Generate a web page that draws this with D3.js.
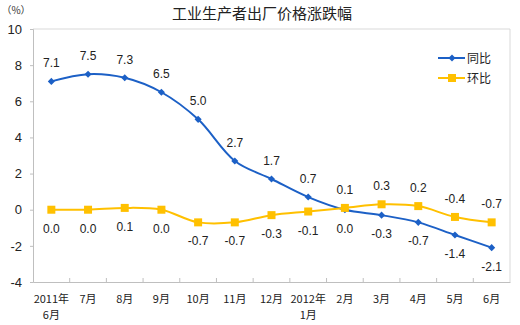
<!DOCTYPE html>
<html><head><meta charset="utf-8">
<script src="https://cdn.jsdelivr.net/npm/d3@7"></script>
<style>body{margin:0;background:#fff;}svg{display:block;font-family:"Liberation Sans","DejaVu Sans",sans-serif;}</style>
</head><body><svg id="c" width="520" height="325"></svg>
<script>
const categories = ["2011年\n6月","7月","8月","9月","10月","11月","12月","2012年\n1月","2月","3月","4月","5月","6月"];
const yoy = [7.1,7.5,7.3,6.5,5.0,2.7,1.7,0.7,0.0,-0.3,-0.7,-1.4,-2.1];
const mom = [0.0,0.0,0.1,0.0,-0.7,-0.7,-0.3,-0.1,0.1,0.3,0.2,-0.4,-0.7];
const yTicks = [-4,-2,0,2,4,6,8,10];
const seriesNames = ["同比","环比"];
const title = "工业生产者出厂价格涨跌幅";
const unit = "（%）";

const svg = d3.select("#c");
const L=33,R=510,T=29,B=282;
const x = d3.scaleBand().domain(d3.range(categories.length)).range([L,R]);
const y = d3.scaleLinear().domain([-4,10]).range([B,T]);
const cx = i => x(i)+x.bandwidth()/2;
const cjk = '"Noto Sans CJK SC",sans-serif';

svg.append("text").attr("x",262).attr("y",19).attr("text-anchor","middle")
  .style("font-family",cjk).style("font-size","15px").attr("fill","#222").text(title);
svg.append("text").attr("x",16).attr("y",14).attr("text-anchor","middle")
  .style("font-family",cjk).style("font-size","10px").attr("fill","#333").text(unit);

svg.append("path").attr("d",`M${L},${T}H${R}V${B}`).attr("fill","none").attr("stroke","#d9d9d9").attr("stroke-width",1);

const ya = svg.append("g").attr("transform",`translate(${L},0)`)
  .call(d3.axisLeft(y).tickValues(yTicks).tickSize(3).tickPadding(8).tickFormat(d=>String(d)));
ya.select(".domain").attr("stroke","#bfbfbf");
ya.selectAll(".tick line").attr("stroke","#bfbfbf");
ya.selectAll("text").style("font-size","13px").attr("fill","#222").style("font-family","'Liberation Sans',sans-serif");

const xa = svg.append("g").attr("transform",`translate(0,${B})`)
  .call(d3.axisBottom(x).tickSize(0).tickFormat(""));
xa.select(".domain").attr("stroke","#bfbfbf");
svg.append("g").selectAll("line").data(d3.range(1,categories.length)).join("line")
  .attr("x1",i=>x(i)).attr("x2",i=>x(i)).attr("y1",B).attr("y2",B-4).attr("stroke","#bfbfbf");
const xl = svg.append("g").selectAll("text").data(categories).join("text")
  .attr("x",(d,i)=>cx(i)).attr("y",B+21).attr("text-anchor","middle")
  .style("font-family",cjk).style("font-size","11px").attr("fill","#222");
xl.each(function(d){
  const parts=d.split("\n");
  const xx=d3.select(this).attr("x");
  d3.select(this).selectAll("tspan").data(parts).join("tspan")
    .attr("x",xx).attr("dy",(p,j)=>j?16:0).text(p=>p);
});

const line = d3.line().x((d,i)=>cx(i)).y(d=>y(d)).curve(d3.curveCatmullRom.alpha(0.5));
const blue="#1c60c6", yellow="#ffc000";
svg.append("path").datum(yoy).attr("d",line).attr("fill","none").attr("stroke",blue).attr("stroke-width",2);
svg.append("path").datum(mom).attr("d",line).attr("fill","none").attr("stroke",yellow).attr("stroke-width",2);
svg.append("g").selectAll("path").data(yoy).join("path")
  .attr("d",d3.symbol(d3.symbolDiamond2,32)).attr("transform",(d,i)=>`translate(${cx(i)},${y(d)})`).attr("fill",blue);
svg.append("g").selectAll("rect").data(mom).join("rect")
  .attr("x",(d,i)=>cx(i)-4).attr("y",d=>y(d)-4).attr("width",8).attr("height",8).attr("fill",yellow);

const fmt = d => d.toFixed(1);
const lblStyle = s => s.style("font-size","12px").attr("fill","#222").attr("text-anchor","middle");
svg.append("g").selectAll("text").data(yoy).join("text")
  .attr("x",(d,i)=>cx(i)).attr("y",(d,i)=>i<8? y(d)-14 : y(d)+23).call(lblStyle).text(d=>fmt(d));
svg.append("g").selectAll("text").data(mom).join("text")
  .attr("x",(d,i)=>cx(i)).attr("y",(d,i)=>i<8? y(d)+23 : y(d)-14).call(lblStyle).text(d=>fmt(d));

const lg = svg.append("g");
[[blue,"d"],[yellow,"s"]].forEach(([c,t],k)=>{
  const yy = 58+k*20;
  lg.append("line").attr("x1",438).attr("x2",465).attr("y1",yy).attr("y2",yy).attr("stroke",c).attr("stroke-width",2);
  if(t==="d") lg.append("path").attr("d",d3.symbol(d3.symbolDiamond2,32)).attr("transform",`translate(452,${yy})`).attr("fill",c);
  else lg.append("rect").attr("x",448).attr("y",yy-4).attr("width",8).attr("height",8).attr("fill",c);
  lg.append("text").attr("x",467).attr("y",yy+4.5).style("font-family",cjk).style("font-size","12px").attr("fill","#222").text(seriesNames[k]);
});
</script></body></html>
